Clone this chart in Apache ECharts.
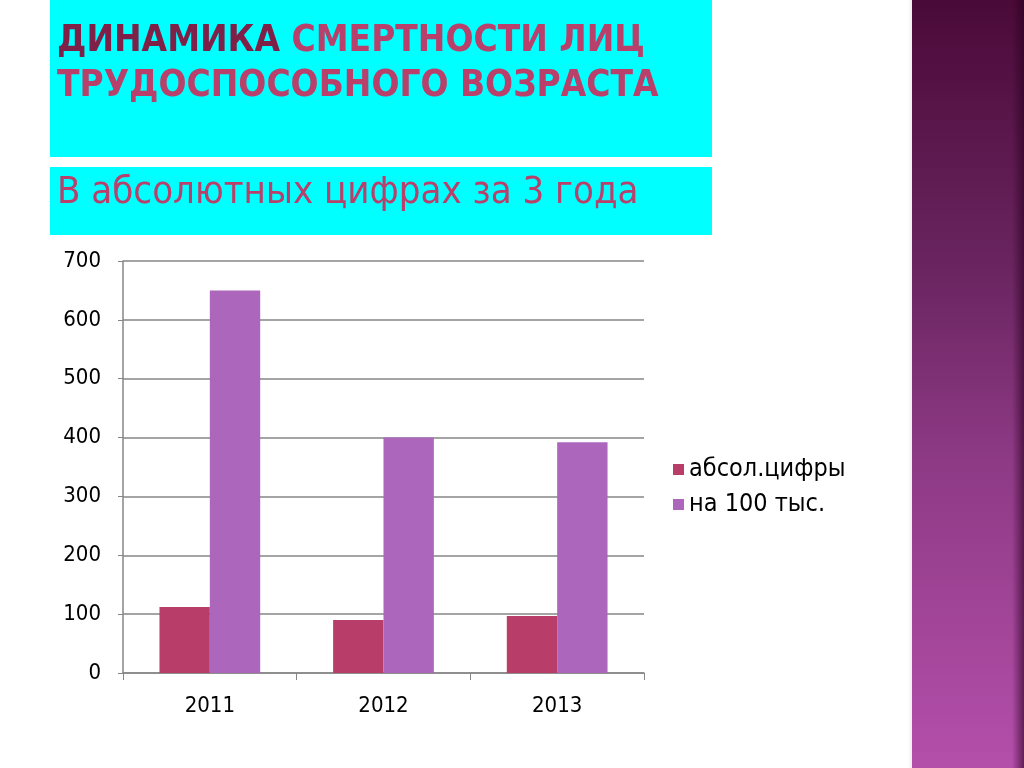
<!DOCTYPE html>
<html><head><meta charset="utf-8">
<script src="https://cdn.jsdelivr.net/npm/echarts@6/dist/echarts.min.js"></script>
<style>html,body{margin:0;padding:0;background:#fff}#c{width:1024px;height:768px}</style>
</head><body><div id="c"></div>
<script>
const categories = ['2011', '2012', '2013'];
const absValues = [112, 90, 97];
const per100kValues = [650, 400, 392];
const seriesNames = ['абсол.цифры', 'на 100 тыс.'];
const yTicks = [0, 100, 200, 300, 400, 500, 600, 700];

const chart = echarts.init(document.getElementById('c'));
const titleFont = '"DejaVu Sans Condensed","DejaVu Sans",sans-serif';
chart.setOption({
  backgroundColor: '#ffffff',
  graphic: [
    { type: 'rect', shape: { x: 50, y: 0, width: 662, height: 157 }, style: { fill: '#00FFFF' }, z: -10 },
    { type: 'rect', shape: { x: 50, y: 167, width: 662, height: 68 }, style: { fill: '#00FFFF' }, z: -10 },
    { type: 'rect', shape: { x: 906, y: 0, width: 8, height: 768 },
      style: { fill: { type: 'linear', x: 0, y: 0, x2: 1, y2: 0, colorStops: [{ offset: 0, color: 'rgba(255,255,255,0)' }, { offset: 1, color: 'rgba(200,200,200,0.6)' }] } }, z: -10 },
    { type: 'rect', shape: { x: 912, y: 0, width: 112, height: 768 },
      style: { fill: { type: 'linear', x: 0, y: 0, x2: 0, y2: 1, colorStops: [
        { offset: 0, color: '#4A0A38' }, { offset: 0.35, color: '#6A2560' },
        { offset: 0.6, color: '#8E3A85' }, { offset: 1, color: '#B44FAA' }] } }, z: -10 },
    { type: 'rect', shape: { x: 1012, y: 0, width: 12, height: 768 },
      style: { fill: { type: 'linear', x: 0, y: 0, x2: 1, y2: 0, colorStops: [{ offset: 0, color: 'rgba(40,0,30,0)' }, { offset: 1, color: 'rgba(40,0,30,0.6)' }] } }, z: -9 },
    { type: 'text', x: 57, y: 19, scaleX: 0.965, z: 10,
      style: { text: '{a|ДИНАМИКА}{b|\u00a0СМЕРТНОСТИ ЛИЦ}\n{b|ТРУДОСПОСОБНОГО ВОЗРАСТА}',
        rich: {
          a: { fontFamily: titleFont, fontWeight: 'bold', fontSize: 38, fill: '#7E2048', lineHeight: 45 },
          b: { fontFamily: titleFont, fontWeight: 'bold', fontSize: 38, fill: '#B8406A', lineHeight: 45 }
        } } },
    { type: 'text', x: 57, y: 174, z: 10,
      style: { text: 'В абсолютных цифрах за 3 года', fontFamily: titleFont, fontSize: 38, fill: '#B8406A' } }
  ],
  legend: {
    orient: 'vertical', left: 668, top: 452, itemWidth: 11, itemHeight: 11, itemGap: 10,
    icon: 'rect', textStyle: { fontSize: 25, color: '#000', fontFamily: titleFont },
    data: seriesNames
  },
  grid: { left: 123, right: 380, top: 261, bottom: 95, containLabel: false },
  xAxis: {
    type: 'category', data: categories,
    axisLine: { lineStyle: { color: '#868686', width: 1.5 } },
    axisTick: { show: true, alignWithLabel: false, length: 7, lineStyle: { color: '#868686' } },
    axisLabel: { fontSize: 22, color: '#000', margin: 22, fontFamily: titleFont }
  },
  yAxis: {
    type: 'value', min: 0, max: 700, interval: 100,
    axisLine: { show: true, lineStyle: { color: '#868686', width: 1.5 } },
    axisTick: { show: true, length: 5, inside: false, lineStyle: { color: '#868686' } },
    splitLine: { lineStyle: { color: '#868686', width: 1.5 } },
    axisLabel: { fontSize: 22, color: '#000', margin: 22, fontFamily: titleFont,
      formatter: v => yTicks.includes(v) ? String(v) : '' }
  },
  series: [
    { name: seriesNames[0], type: 'bar', data: absValues, itemStyle: { color: '#B83D68' }, barGap: '0%', barCategoryGap: '42%' },
    { name: seriesNames[1], type: 'bar', data: per100kValues, itemStyle: { color: '#AC66BB' }, barGap: '0%', barCategoryGap: '42%' }
  ]
});
</script></body></html>
